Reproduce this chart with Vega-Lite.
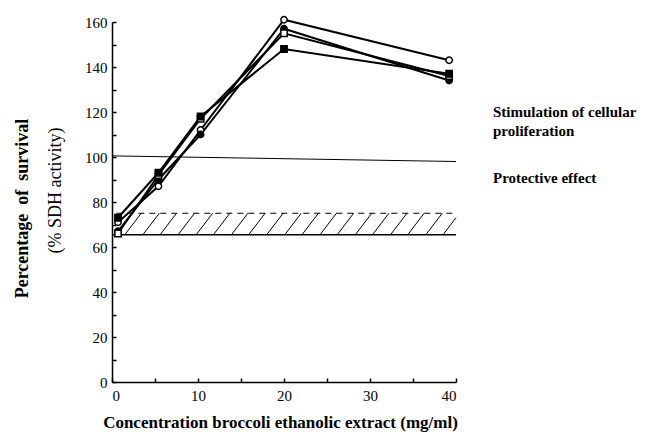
{
  "$schema": "https://vega.github.io/schema/vega-lite/v6.json",
  "width": 344,
  "height": 360,
  "autosize": "none",
  "padding": {"left": 112, "top": 22, "right": 191, "bottom": 55},
  "background": "white",
  "config": {
    "view": {"stroke": null},
    "font": "Liberation Serif",
    "axis": {"grid": false, "domainColor": "black", "tickColor": "black", "labelColor": "black", "titleColor": "black", "domainWidth": 1.5, "tickWidth": 1.5, "labelFont": "Liberation Serif", "titleFont": "Liberation Serif"}
  },
  "datasets": {
    "series": [
      {"x": 0.7, "y": 71, "s": "A"}, {"x": 5.4, "y": 87, "s": "A"}, {"x": 10.3, "y": 112, "s": "A"}, {"x": 20, "y": 161, "s": "A"}, {"x": 39.2, "y": 143, "s": "A"},
      {"x": 0.7, "y": 67, "s": "B"}, {"x": 5.4, "y": 90, "s": "B"}, {"x": 10.3, "y": 110, "s": "B"}, {"x": 20, "y": 157, "s": "B"}, {"x": 39.2, "y": 134, "s": "B"},
      {"x": 0.7, "y": 66, "s": "C"}, {"x": 5.4, "y": 92, "s": "C"}, {"x": 10.3, "y": 117, "s": "C"}, {"x": 20, "y": 155, "s": "C"}, {"x": 39.2, "y": 136, "s": "C"},
      {"x": 0.7, "y": 73, "s": "D"}, {"x": 5.4, "y": 93, "s": "D"}, {"x": 10.3, "y": 118, "s": "D"}, {"x": 20, "y": 148, "s": "D"}, {"x": 39.2, "y": 137, "s": "D"}
    ],
    "hatch": [
      {"x": 1.5, "y": 65.5, "x2": 3.4, "y2": 75}, {"x": 3.6, "y": 65.5, "x2": 5.5, "y2": 75}, {"x": 5.6, "y": 65.5, "x2": 7.5, "y2": 75},
      {"x": 7.7, "y": 65.5, "x2": 9.6, "y2": 75}, {"x": 9.8, "y": 65.5, "x2": 11.7, "y2": 75}, {"x": 11.8, "y": 65.5, "x2": 13.7, "y2": 75},
      {"x": 13.9, "y": 65.5, "x2": 15.8, "y2": 75}, {"x": 15.9, "y": 65.5, "x2": 17.8, "y2": 75}, {"x": 18.0, "y": 65.5, "x2": 19.9, "y2": 75},
      {"x": 20.1, "y": 65.5, "x2": 22.0, "y2": 75}, {"x": 22.1, "y": 65.5, "x2": 24.0, "y2": 75}, {"x": 24.2, "y": 65.5, "x2": 26.1, "y2": 75},
      {"x": 26.2, "y": 65.5, "x2": 28.1, "y2": 75}, {"x": 28.3, "y": 65.5, "x2": 30.2, "y2": 75}, {"x": 30.3, "y": 65.5, "x2": 32.2, "y2": 75},
      {"x": 32.4, "y": 65.5, "x2": 34.3, "y2": 75}, {"x": 34.4, "y": 65.5, "x2": 36.3, "y2": 75}, {"x": 36.5, "y": 65.5, "x2": 38.4, "y2": 75},
      {"x": 38.5, "y": 65.5, "x2": 40, "y2": 73}
    ],
    "bandBottom": [{"x": 0, "y": 65.5, "x2": 40, "y2": 65.5}],
    "bandTop": [{"x": 0.5, "y": 75, "x2": 40, "y2": 75}],
    "ref": [{"x": 0, "y": 100.5, "x2": 40, "y2": 98}],
    "notes": [
      {"x": 44.3, "y": 119.9, "t": "Stimulation of cellular"},
      {"x": 44.3, "y": 111.4, "t": "proliferation"},
      {"x": 44.3, "y": 90.5, "t": "Protective effect"}
    ]
  },
  "layer": [
    {
      "data": {"name": "hatch"},
      "mark": {"type": "rule", "color": "black", "strokeWidth": 1},
      "encoding": {
        "x": {"field": "x", "type": "quantitative", "scale": {"domain": [0, 40]}},
        "y": {"field": "y", "type": "quantitative", "scale": {"domain": [0, 160]}, "axis": null},
        "x2": {"field": "x2"}, "y2": {"field": "y2"}
      }
    },
    {
      "data": {"name": "bandBottom"},
      "mark": {"type": "rule", "color": "black", "strokeWidth": 1.5},
      "encoding": {
        "x": {"field": "x", "type": "quantitative"},
        "y": {"field": "y", "type": "quantitative", "axis": null},
        "x2": {"field": "x2"}, "y2": {"field": "y2"}
      }
    },
    {
      "data": {"name": "bandTop"},
      "mark": {"type": "rule", "color": "black", "strokeWidth": 1, "strokeDash": [6, 5]},
      "encoding": {
        "x": {"field": "x", "type": "quantitative"},
        "y": {"field": "y", "type": "quantitative", "axis": null},
        "x2": {"field": "x2"}, "y2": {"field": "y2"}
      }
    },
    {
      "data": {"name": "ref"},
      "mark": {"type": "rule", "color": "black", "strokeWidth": 1},
      "encoding": {
        "x": {"field": "x", "type": "quantitative"},
        "y": {"field": "y", "type": "quantitative", "axis": null},
        "x2": {"field": "x2"}, "y2": {"field": "y2"}
      }
    },
    {
      "data": {"name": "series"},
      "mark": {"type": "line", "color": "black", "strokeWidth": 2},
      "encoding": {
        "x": {"field": "x", "type": "quantitative",
          "axis": {"values": [0, 5, 10, 15, 20, 25, 30, 35, 40], "labelExpr": "datum.value % 10 == 0 ? datum.label : ''", "tickSize": -4, "labelPadding": 10, "labelFontSize": 15, "title": "Concentration broccoli ethanolic extract (mg/ml)", "titleFontSize": 17, "titleFontWeight": "bold", "titleX": 168, "titleY": 40, "titleBaseline": "middle", "titleAnchor": "middle"}},
        "y": {"field": "y", "type": "quantitative",
          "axis": {"values": [0, 10, 20, 30, 40, 50, 60, 70, 80, 90, 100, 110, 120, 130, 140, 150, 160], "labelExpr": "datum.value % 20 == 0 ? datum.label : ''", "tickSize": -4, "labelPadding": 9, "labelFontSize": 15, "title": "(% SDH activity)", "titleFontSize": 18, "titleFontWeight": "normal", "titleX": -57, "titleY": 168, "titleAngle": 270, "titleAlign": "center", "titleBaseline": "middle"}},
        "detail": {"field": "s"}
      }
    },
    {
      "data": {"name": "series"},
      "mark": {"type": "point", "filled": true, "stroke": "black", "strokeWidth": 1.5, "size": 40, "opacity": 1},
      "encoding": {
        "x": {"field": "x", "type": "quantitative"},
        "y": {"field": "y", "type": "quantitative", "axis": null},
        "shape": {"field": "s", "type": "nominal", "scale": {"domain": ["A", "B", "C", "D"], "range": ["circle", "circle", "square", "square"]}, "legend": null},
        "fill": {"field": "s", "type": "nominal", "scale": {"domain": ["A", "B", "C", "D"], "range": ["white", "black", "white", "black"]}, "legend": null}
      }
    },
    {
      "data": {"name": "notes"},
      "mark": {"type": "text", "align": "left", "baseline": "middle", "fontSize": 15, "fontWeight": "bold", "font": "Liberation Serif", "color": "black"},
      "encoding": {
        "x": {"field": "x", "type": "quantitative"},
        "y": {"field": "y", "type": "quantitative",
          "axis": {"orient": "left", "labels": false, "ticks": false, "domain": false, "title": "Percentage\u00a0 of\u00a0 survival", "titleFontSize": 18, "titleFontWeight": "bold", "titleX": -90, "titleY": 186, "titleAngle": 270, "titleAlign": "center", "titleBaseline": "middle"}},
        "text": {"field": "t"}
      }
    }
  ],
  "resolve": {"axis": {"y": "independent"}}
}
